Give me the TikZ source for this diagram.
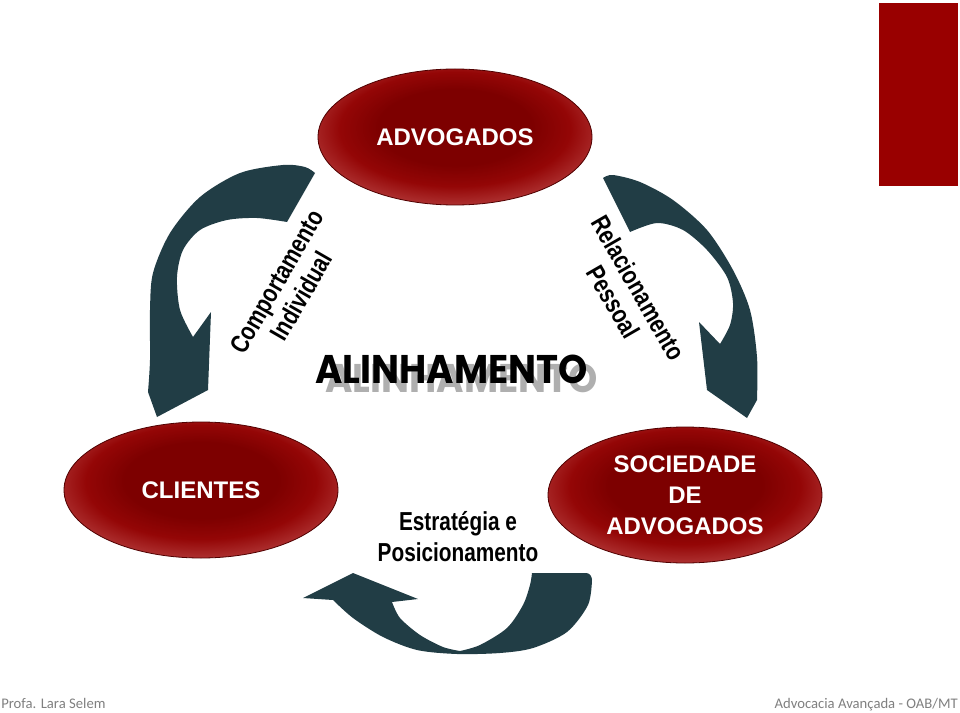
\documentclass[tikz,border=0pt]{standalone}
\usepackage{fontspec}
\setmainfont{Liberation Sans}[BoldFont={Liberation Sans Bold}]
\newfontfamily\popfont{Poppins}
\newfontfamily\calfont{Carlito}
\usetikzlibrary{shapes.geometric}
\definecolor{ellin}{RGB}{125,0,0}
\definecolor{ellmid}{RGB}{148,6,6}
\definecolor{ellout}{RGB}{180,60,60}
\definecolor{elledge}{RGB}{80,0,0}
\definecolor{arrowc}{RGB}{33,61,69}
\definecolor{barred}{RGB}{153,0,0}
\definecolor{shadowgray}{RGB}{175,175,175}
\definecolor{footgray}{RGB}{128,128,128}
\pgfdeclareradialshading{ellred}{\pgfpoint{0bp}{5bp}}{color(0bp)=(ellin); color(14bp)=(ellin); color(21bp)=(ellmid); color(29bp)=(ellout); color(50bp)=(ellout)}
\pgfdeclarelayer{bg}
\pgfsetlayers{bg,main}
\newcommand{\nar}[1]{\scalebox{0.8}[1]{#1}}
\begin{document}
\begin{tikzpicture}[x=0.75pt,y=-0.75pt,
 ell/.style={ellipse, draw=elledge, line width=0.6pt, shading=ellred, minimum width=205.5pt, minimum height=102pt, inner sep=0pt, text=white, font=\bfseries\fontsize{18}{23.25}\selectfont, align=center},
 side/.style={black, line width=4.2pt, shorten <=-6pt, shorten >=-6pt},
 carrow/.style={fill=arrowc},
 lbl/.style={font=\bfseries\fontsize{19.5}{21.5}\selectfont, align=center, inner sep=0pt},
 alin/.style={font=\popfont\bfseries\fontsize{30}{30}\selectfont, inner sep=0pt},
 foot/.style={font=\calfont\fontsize{11}{14}\selectfont, text=footgray, inner sep=0pt}]
\fill[white] (0,0) rectangle (960,713);
\useasboundingbox (0,0) rectangle (960,713);

% red bar
\fill[barred] (879,3) rectangle (958,186);

% ellipses
\node[ell] (adv) at (455,137) {ADVOGADOS};
\node[ell] (cli) at (201,490) {CLIENTES};
\node[ell] (soc) at (685,495) {SOCIEDADE\\DE\\ADVOGADOS};

% triangle sides
\begin{pgfonlayer}{bg}
\draw[side] (adv.224) -- (cli.46.5);
\draw[side] (adv.315.5) -- (soc.115.5);
\draw[side] (cli.-4) -- (soc.182);
\end{pgfonlayer}

% left curved arrow
\fill[carrow] (315,173) -- (287,222)
  -- plot[smooth] coordinates {(287,222) (257,218) (227,220) (200,230) (183,250) (177,277) (180,310) (193,337)}
  -- (211,312) -- (208,390) -- (157,417) -- (148,392)
  -- plot[smooth] coordinates {(148,392) (150,360) (150,310) (153,273) (170,233) (200,197) (240,173) (283,165) (305,167) (315,173)}
  -- cycle;

% right curved arrow
\fill[carrow] (603,178) -- (630,232)
  -- plot[smooth] coordinates {(630,232) (657,223) (683,230) (707,250) (727,277) (733,303) (730,325) (720,344)}
  -- (699,322) -- (707,390) -- (747,418) -- (757,400)
  -- plot[smooth] coordinates {(757,400) (757,357) (750,310) (733,270) (707,230) (673,200) (640,182) (613,175) (603,178)}
  -- cycle;

% bottom curved arrow
\fill[carrow] (532,573) -- (586,573) to[out=0,in=90] (592,580)
  -- plot[smooth] coordinates {(592,580) (588,605) (567,632) (533,648) (500,653) (457,654) (417,650) (383,637) (353,618) (333,600)}
  -- (303,598) -- (353,573) -- (418,599) -- (392,602)
  -- plot[smooth] coordinates {(392,602) (400,618) (420,635) (443,647) (460,651)}
  -- plot[smooth] coordinates {(460,651) (480,645) (507,628) (523,605) (530,585) (532,573)}
  -- cycle;

% labels
\node[lbl, rotate=60] (comp) at (289,289) {\nar{Comportamento}\\\nar{Individual}};
\node[lbl, rotate=-60] (rel) at (626,295) {\nar{Relacionamento}\\\nar{Pessoal}};
\node[lbl, font=\bfseries\fontsize{19.5}{23.25}\selectfont] (estr) at (458,537) {\nar{Estratégia e}\\\nar{Posicionamento}};

% ALINHAMENTO with shadow
\node[alin, text=shadowgray] (alinshadow) at (461.5,378) {\scalebox{0.93}[1]{ALINHAMENTO}};
\node[alin, text=black] (alinh) at (451.5,369) {\scalebox{0.93}[1]{ALINHAMENTO}};

% footer
\node[foot, anchor=base west] (f1) at (1,708) {Profa. Lara Selem};
\node[foot, anchor=base east] (f2) at (958,708) {Advocacia Avançada - OAB/MT};
\end{tikzpicture}
\end{document}
